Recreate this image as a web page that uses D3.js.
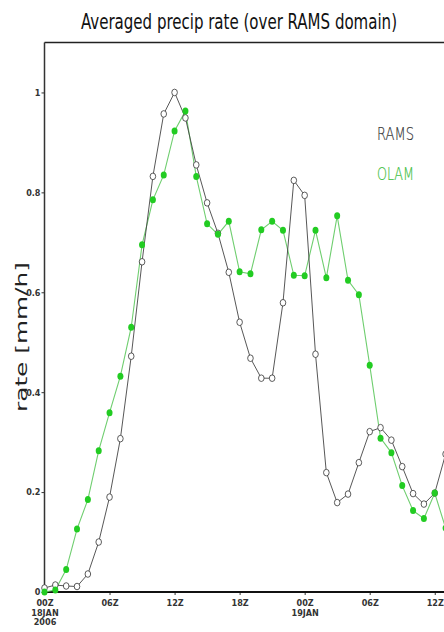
<!DOCTYPE html>
<html>
<head>
<meta charset="utf-8">
<script src="https://cdn.jsdelivr.net/npm/d3@7"></script>
<style>
  html, body { margin: 0; padding: 0; background: #fff; }
  svg { display: block; }
</style>
</head>
<body>
<svg id="chart" width="444" height="632"></svg>
<script>
// Hours since 00Z 18 JAN 2006 (hourly output)
const hours = d3.range(0, 38);

// Domain-averaged precipitation rate [mm/h]
const ramsRate = [0.008, 0.014, 0.012, 0.011, 0.036, 0.100, 0.190, 0.307, 0.472, 0.661,
  0.832, 0.957, 1.000, 0.949, 0.855, 0.779, 0.718, 0.640, 0.540, 0.468,
  0.428, 0.428, 0.579, 0.824, 0.794, 0.476, 0.239, 0.179, 0.196, 0.259,
  0.321, 0.329, 0.304, 0.251, 0.197, 0.176, 0.198, 0.276];

const olamRate = [0.000, 0.004, 0.045, 0.126, 0.185, 0.283, 0.359, 0.432, 0.530, 0.695,
  0.785, 0.835, 0.923, 0.963, 0.832, 0.737, 0.716, 0.742, 0.641, 0.637,
  0.725, 0.742, 0.724, 0.634, 0.633, 0.724, 0.629, 0.753, 0.624, 0.595,
  0.454, 0.308, 0.279, 0.213, 0.163, 0.147, 0.198, 0.128];

// Axis ticks
const xTickHours = [0, 6, 12, 18, 24, 30, 36];
const xTickLabels = [["00Z", "18JAN", "2006"], ["06Z"], ["12Z"], ["18Z"], ["00Z", "19JAN"],
  ["06Z"], ["12Z"]];
const yTickValues = [0, 0.2, 0.4, 0.6, 0.8, 1];
const yTickLabels = ["0", "0.2", "0.4", "0.6", "0.8", "1"];

const seriesNames = ["RAMS", "OLAM"];

const svg = d3.select("#chart");

const plotLeft = 44.5, plotTop = 42.5, plotBottom = 592;
const x = d3.scaleLinear().domain([0, 48]).range([plotLeft, plotLeft + 48 * 10.84]);
const y = d3.scaleLinear().domain([0, 1.1]).range([plotBottom, plotTop]);

const tickFont = "'Liberation Sans Narrow', 'DejaVu Sans Condensed', sans-serif";
const thinFont = "'DejaVu Sans', sans-serif";

// Title (condensed face, stretched vertically)
svg.append("text")
  .attr("transform", "translate(239,29) scale(1,1.25)")
  .attr("text-anchor", "middle")
  .attr("font-family", "'DejaVu Sans Condensed', 'DejaVu Sans', sans-serif")
  .attr("font-size", 17)
  .attr("textLength", 316)
  .attr("lengthAdjust", "spacingAndGlyphs")
  .attr("fill", "#111")
  .text("Averaged precip rate (over RAMS domain)");

// Y-axis label
svg.append("text")
  .attr("transform", "translate(27,337) rotate(-90)")
  .attr("text-anchor", "middle")
  .attr("font-family", thinFont)
  .attr("font-size", 16)
  .attr("textLength", 150)
  .attr("lengthAdjust", "spacingAndGlyphs")
  .attr("fill", "#222")
  .text("rate [mm/h]");

// Plot frame (top and left)
const frame = svg.append("g");
frame.append("line").attr("x1", plotLeft).attr("x2", 444).attr("y1", plotTop).attr("y2", plotTop)
  .attr("stroke", "#222").attr("stroke-width", 1.5);
frame.append("line").attr("x1", plotLeft).attr("x2", plotLeft).attr("y1", plotTop).attr("y2", plotBottom)
  .attr("stroke", "#333").attr("stroke-width", 1.5);

// Y axis
const yAxis = d3.axisLeft(y).tickValues(yTickValues)
  .tickFormat((d, i) => yTickLabels[i]).tickSize(3).tickPadding(1);
const gy = svg.append("g").attr("transform", `translate(${plotLeft},0)`).call(yAxis);
gy.select(".domain").remove();
gy.selectAll(".tick line").attr("stroke", "#333");
gy.selectAll(".tick text")
  .attr("font-family", tickFont).attr("font-size", 9).attr("font-weight", "bold")
  .attr("fill", "#333");

// X axis
const xAxis = d3.axisBottom(x).tickValues(xTickHours).tickFormat("").tickSize(3);
const gx = svg.append("g").attr("transform", `translate(0,${plotBottom})`).call(xAxis);
gx.select(".domain").remove();
gx.selectAll(".tick line").attr("stroke", "#333");
gx.selectAll(".tick").each(function (d, i) {
  const t = d3.select(this).append("text")
    .attr("text-anchor", "middle")
    .attr("font-family", tickFont).attr("font-size", 9).attr("font-weight", "bold")
    .attr("fill", "#333");
  xTickLabels[i].forEach((s, k) => {
    t.append("tspan").attr("x", 0).attr("y", 14 + k * 9.5).text(s);
  });
});
svg.append("line").attr("x1", plotLeft - 1).attr("x2", 444).attr("y1", plotBottom).attr("y2", plotBottom)
  .attr("stroke", "#111").attr("stroke-width", 2);

// Series
const line = d3.line().x((d, i) => x(hours[i])).y(d => y(d));

svg.append("path").datum(olamRate)
  .attr("d", line).attr("fill", "none")
  .attr("stroke", "#6fce6f").attr("stroke-width", 1.1);

svg.append("path").datum(ramsRate)
  .attr("d", line).attr("fill", "none")
  .attr("stroke", "#444").attr("stroke-width", 0.9);

svg.append("g").selectAll("ellipse").data(ramsRate).join("ellipse")
  .attr("cx", (d, i) => x(hours[i])).attr("cy", d => y(d))
  .attr("rx", 2.8).attr("ry", 3.3)
  .attr("fill", "#fff").attr("stroke", "#333").attr("stroke-width", 0.8);

svg.append("g").selectAll("ellipse").data(olamRate).join("ellipse")
  .attr("cx", (d, i) => x(hours[i])).attr("cy", d => y(d))
  .attr("rx", 3).attr("ry", 3.5)
  .attr("fill", "#22cc22");

// Legend
svg.append("text").attr("x", 377).attr("y", 140)
  .attr("font-family", thinFont).attr("font-weight", 200)
  .attr("font-size", 17).attr("textLength", 37).attr("lengthAdjust", "spacingAndGlyphs")
  .attr("fill", "#3a3a3a").attr("stroke", "#3a3a3a").attr("stroke-width", 0.2)
  .text(seriesNames[0]);
svg.append("text").attr("x", 377).attr("y", 180)
  .attr("font-family", thinFont).attr("font-weight", 200)
  .attr("font-size", 17).attr("textLength", 37).attr("lengthAdjust", "spacingAndGlyphs")
  .attr("fill", "#44c044").attr("stroke", "#44c044").attr("stroke-width", 0.2)
  .text(seriesNames[1]);
</script>
</body>
</html>
